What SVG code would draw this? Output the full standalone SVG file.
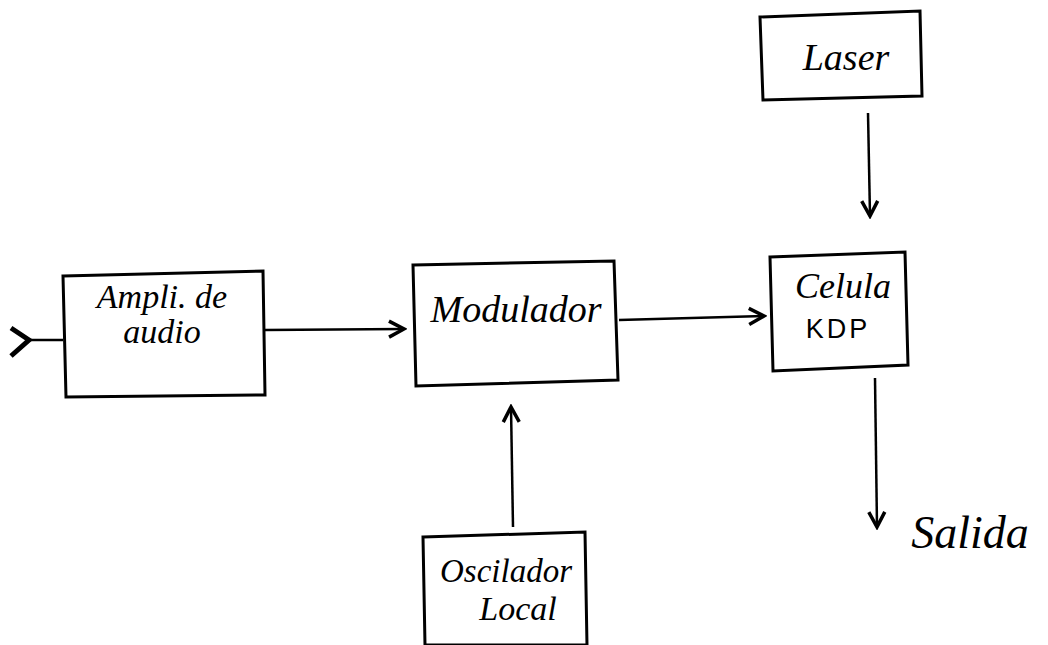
<svg xmlns="http://www.w3.org/2000/svg" width="1048" height="645" viewBox="0 0 1048 645">
<style>
.box{fill:none;stroke:#000;stroke-width:3}
.ln{fill:none;stroke:#000;stroke-width:2.5}
.t{font-family:"Liberation Serif",serif;font-style:italic;font-size:32px;fill:#000;text-anchor:middle}
.s{font-family:"Liberation Sans",sans-serif;font-size:27px;fill:#000;text-anchor:middle;letter-spacing:3px}
</style>
<defs>
<marker id="ah" viewBox="0 0 20 20" refX="17" refY="10" markerWidth="20" markerHeight="20" markerUnits="userSpaceOnUse" orient="auto">
<path d="M2,2 L17,10 L2,18" fill="none" stroke="#000" stroke-width="3.5" stroke-linejoin="miter"/>
</marker>
</defs>
<rect width="1048" height="645" fill="#fff"/>
<g id="ampli">
<path class="box" d="M63,276 L263,271 L265,395 L66,397 Z"/>
<text class="t" x="162" y="308" style="font-size:34px">Ampli. de</text>
<text class="t" x="162" y="343" style="font-size:34px">audio</text>
</g>
<g id="modulador">
<path class="box" d="M413,265 L614,261 L618,380 L416,386 Z"/>
<text class="t" x="516" y="322" style="font-size:38px">Modulador</text>
</g>
<g id="laser">
<path class="box" d="M760,17 L920,11 L922,96 L763,100 Z"/>
<text class="t" x="846" y="70" style="font-size:38px">Laser</text>
</g>
<g id="celula">
<path class="box" d="M770,257 L905,252 L908,365 L773,371 Z"/>
<text class="t" x="843" y="298" style="font-size:36px">Celula</text>
<text class="s" x="838" y="338">KDP</text>
</g>
<g id="oscilador">
<path class="box" d="M423,537 L585,532 L587,645 L425,645 Z"/>
<text class="t" x="506" y="582" style="font-size:33px">Oscilador</text>
<text class="t" x="518" y="620" style="font-size:34px">Local</text>
</g>
<g id="salida">
<text class="t" x="970" y="548" style="font-size:46px">Salida</text>
</g>
<g id="connectors">
<path class="ln" d="M30,340 L63,340"/>
<path d="M11,328 L29,340 L11,356" fill="none" stroke="#000" stroke-width="5"/>
<path class="ln" d="M265,330 L404,329" marker-end="url(#ah)"/>
<path class="ln" d="M619,320 L764,316" marker-end="url(#ah)"/>
<path class="ln" d="M868,113 L870,216" marker-end="url(#ah)"/>
<path class="ln" d="M513,527 L511,407" marker-end="url(#ah)"/>
<path class="ln" d="M875,378 L877,527" marker-end="url(#ah)"/>
</g>
</svg>
